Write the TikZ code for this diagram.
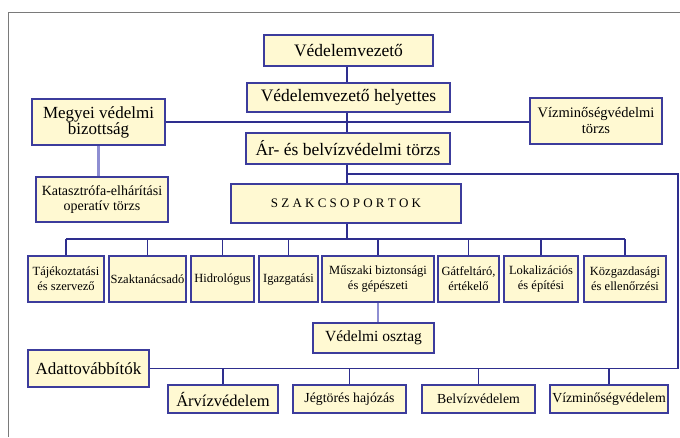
\documentclass[tikz,border=0pt]{standalone}
\usepackage{fontspec}
\IfFontExistsTF{LiberationSerif-Regular.ttf}
  {\newfontfamily\tms{LiberationSerif-Regular.ttf}}
  {\newfontfamily\tms{Latin Modern Roman}}
\definecolor{boxfill}{HTML}{FFF9D2}
\definecolor{boxline}{HTML}{3C3C9C}
\definecolor{connc}{HTML}{2E2E8E}
\definecolor{connlight}{HTML}{8E8ED2}
\definecolor{framec}{HTML}{7A7A7A}
\newcommand{\fs}[2]{\tms\fontsize{#1}{#2}\selectfont}
\newcommand{\obox}[7]{\node[orgbox,minimum width=#4pt,minimum height=#5pt,font=#6] (#1) at (#2,#3) {#7};}
\tikzset{
  orgbox/.style={draw=boxline, line width=1.6pt, fill=boxfill, inner sep=0pt, align=center},
  conn/.style={draw=connc, line width=1.4pt},
  connl/.style={draw=connlight, line width=2.2pt},
}
\begin{document}
\begin{tikzpicture}[x=1pt,y=-1pt]
\useasboundingbox (0,0) rectangle (680,437);
\fill[white] (0,0) rectangle (680,437);
\draw[framec, line width=1.5pt] (8.5,437) -- (8.5,12.5) -- (680,12.5);

% boxes
\obox{vv}{348.5}{50.5}{169}{31}{\fs{17.5}{18}}{Védelemvezető}
\obox{hely}{348.5}{97.5}{203}{29}{\fs{17.5}{18}}{Védelemvezető helyettes}
\obox{ar}{348}{148.5}{204}{31}{\fs{17.5}{18}}{Ár- és belvízvédelmi törzs}
\obox{szak}{346}{203.5}{230}{39}{\fs{13}{15}}{S Z A K C S O P O R T O K}
\obox{megyei}{98.5}{122}{133}{46}{\fs{17}{16}}{Megyei védelmi\\bizottság}
\obox{katasz}{102}{199.5}{132}{45}{\fs{14}{15}}{Katasztrófa-elhárítási\\operatív törzs}
\obox{vizt}{596}{121}{132}{46}{\fs{14.5}{16}}{Vízminőségvédelmi\\törzs}

\obox{tajek}{66}{279}{76}{46}{\fs{12.5}{15}}{Tájékoztatási\\és szervező}
\obox{szakt}{147.5}{279}{77}{46}{\fs{12.5}{15}}{Szaktanácsadó}
\obox{hidro}{222.5}{279}{63}{46}{\fs{12.5}{15}}{Hidrológus}
\obox{igazg}{288.5}{279}{59}{46}{\fs{12.5}{15}}{Igazgatási}
\obox{muszaki}{378}{279}{112}{46}{\fs{12.5}{15}}{Műszaki biztonsági\\és gépészeti}
\obox{gat}{468.5}{279}{61}{46}{\fs{12.5}{15}}{Gátfeltáró,\\értékelő}
\obox{lokal}{541}{279}{74}{46}{\fs{12.5}{15}}{Lokalizációs\\és építési}
\obox{kozg}{625}{279}{82}{46}{\fs{12.5}{15}}{Közgazdasági\\és ellenőrzési}

\obox{vo}{373.5}{338}{121}{30}{\fs{15.5}{17}}{Védelmi osztag}
\obox{adatt}{88.5}{368.5}{121}{37}{\fs{17}{18}}{Adattovábbítók}

\obox{arviz}{223}{399}{110}{28}{\fs{16.5}{18}}{Árvízvédelem}
\obox{jeg}{349.5}{399}{113}{28}{\fs{13.8}{16}}{Jégtörés hajózás}
\obox{belv}{478.5}{399}{113}{28}{\fs{13.8}{16}}{Belvízvédelem}
\obox{vizm}{609}{399}{118}{28}{\fs{13.8}{16}}{Vízminőségvédelem}

% helper coordinates
\coordinate (trunk) at (347,0);
\coordinate (bus) at (347,239);
\coordinate (br) at (347,174);
\coordinate (rc) at (678,174);

% trunk
\draw[conn] (vv.south -| trunk) -- (hely.north -| trunk);
\draw[conn] (hely.south -| trunk) -- (ar.north -| trunk);
\draw[conn] (ar.south -| trunk) -- (szak.north -| trunk);
\draw[conn] (szak.south -| trunk) -- (bus);
% county line
\draw[conn] (megyei.east) -- (megyei.east -| vizt.west);
% branch to the right and down
\draw[conn] (br) -- (rc) |- (adatt.east);
% bus
\draw[conn] (tajek.north |- bus) -- (kozg.north |- bus);
\foreach \n in {tajek,szakt,hidro,igazg,muszaki,gat,lokal,kozg}
  \draw[conn] (\n.north) -- (\n.north |- bus);
% bottom drops
\foreach \n in {arviz,jeg,belv,vizm}
  \draw[conn] (\n.north) -- (\n.north |- adatt.east);
% light links
\draw[connl] (megyei.south) -- (megyei.south |- katasz.north);
\draw[connl] (muszaki.south) -- (muszaki.south |- vo.north);
\end{tikzpicture}
\end{document}
